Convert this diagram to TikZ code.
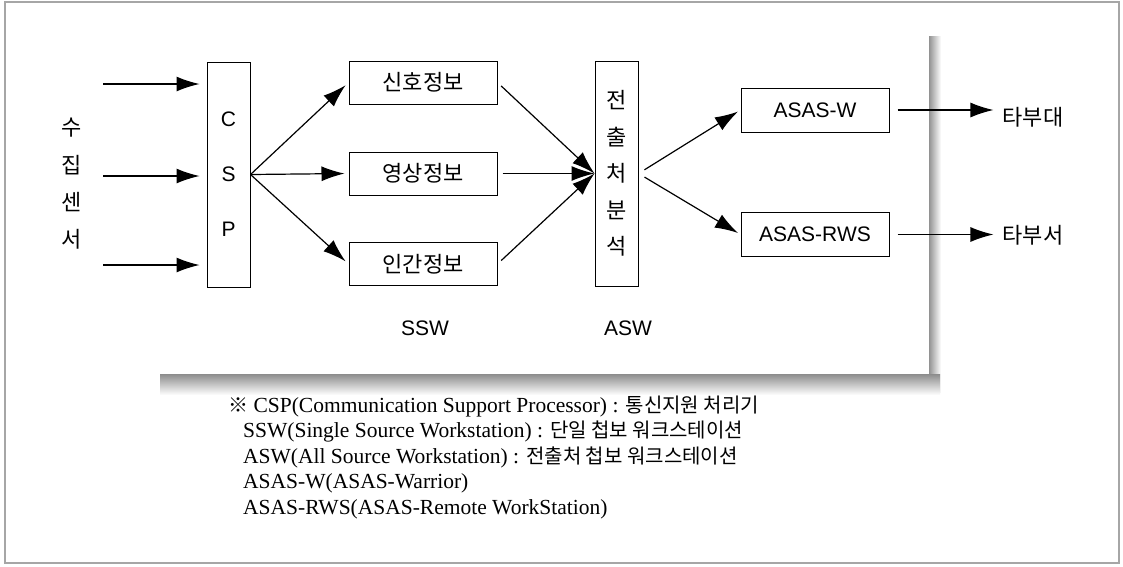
\documentclass[tikz,border=0pt]{standalone}
\usepackage{fontspec}
\setmainfont{Liberation Sans}
\newfontfamily\kr{Noto Sans CJK KR}
\newfontfamily\notefont{Liberation Serif}
\usetikzlibrary{arrows.meta}
\tikzset{
  box/.style={draw, line width=1pt, minimum width=148pt, minimum height=43pt, inner sep=0pt, font=\fontsize{22}{24}\selectfont\kr},
  abox/.style={draw, line width=1pt, minimum width=148pt, minimum height=44pt, inner sep=0pt, font=\fontsize{21}{24}\selectfont},
  tall/.style={draw, line width=1pt, minimum width=43pt, minimum height=225pt, inner sep=0pt, align=center},
  arr/.style={line width=1.2pt, -{Latex[length=23pt,width=15pt]}},
  lbl/.style={inner sep=0pt, font=\fontsize{21}{24}\selectfont},
  note/.style={inner sep=0pt, anchor=base west, font=\fontsize{21.5}{24}\selectfont\notefont}
}
\begin{document}
\begin{tikzpicture}[x=1pt,y=-1pt]
\useasboundingbox (0,0) rectangle (1123,566);
\fill[white] (0,0) rectangle (1123,566);
% outer frame
\draw[gray!70, line width=1.2pt] (5,2) rectangle (1119,563);
% panel shadow
\shade[left color=gray!85, right color=white] (929,36) rectangle (941,392);
\shade[top color=gray!90, bottom color=white] (160,374) rectangle (940,395);
\fill[white] (155,35) rectangle (929,374);

% nodes
\node[tall, font=\fontsize{21}{55}\selectfont] (csp) at (228.5,174.5) {C\\S\\P};
\node[tall, font=\fontsize{22}{36.5}\selectfont\kr] (asw) at (616.5,173.5) {전\\출\\처\\분\\석};
\node[inner sep=0pt, align=center, font=\fontsize{22}{37.3}\selectfont\kr] (sensor) at (72,184) {수\\집\\센\\서};
\node[box] (sig) at (423,82.5) {신호정보};
\node[box] (img) at (423,173.5) {영상정보};
\node[box] (hum) at (423,264) {인간정보};
\node[abox] (aw) at (815,110) {ASAS-W};
\node[abox] (arws) at (815,234.5) {ASAS-RWS};
\node[lbl, font=\fontsize{22}{24}\selectfont\kr] (t1) at (1033,117) {타부대};
\node[lbl, font=\fontsize{22}{24}\selectfont\kr] (t2) at (1033,235) {타부서};
\node[lbl] (ssw) at (425,328) {SSW};
\node[lbl] (aswl) at (628,328) {ASW};

% connectors
\coordinate (i1) at (103,84);
\coordinate (i2) at (103,176);
\coordinate (i3) at (103,265);
\draw[arr, shorten >=7pt] (i1) -- (i1 -| csp.west);
\draw[arr, shorten >=7pt] (i2) -- (i2 -| csp.west);
\draw[arr, shorten >=7pt] (i3) -- (i3 -| csp.west);
\draw[arr, shorten >=4pt] (csp.east) -- (sig.west);
\draw[arr, shorten >=4pt] (csp.east) -- (img.west);
\draw[arr, shorten >=4pt] (csp.east) -- (hum.west);
\draw[arr, shorten <=5pt] (sig.east) -- (asw.west);
\draw[arr, shorten <=5pt] (img.east) -- (asw.west);
\draw[arr, shorten <=5pt] (hum.east) -- (asw.west);
\draw[arr, shorten <=7pt, shorten >=3pt] (asw.east) -- (aw.west);
\draw[arr, shorten <=7pt, shorten >=3pt] (asw.east) -- (arws.west);
\draw[arr, shorten <=8pt, shorten >=9pt] (aw.east) -- (aw.east -| t1.west);
\draw[arr, shorten <=8pt, shorten >=9pt] (arws.east) -- (arws.east -| t2.west);

% footnotes
\node[note] (n1) at (228,412) {{\kr\fontsize{20}{24}\selectfont ※} CSP(Communication Support Processor) : {\kr\fontsize{20}{24}\selectfont 통신지원 처리기}};
\node[note] (n2) at (243,437) {SSW(Single Source Workstation) : {\kr\fontsize{20}{24}\selectfont 단일 첩보 워크스테이션}};
\node[note] (n3) at (243,463) {ASW(All Source Workstation) : {\kr\fontsize{20}{24}\selectfont 전출처 첩보 워크스테이션}};
\node[note] (n4) at (243,488) {ASAS-W(ASAS-Warrior)};
\node[note] (n5) at (243,514) {ASAS-RWS(ASAS-Remote WorkStation)};
\end{tikzpicture}
\end{document}
